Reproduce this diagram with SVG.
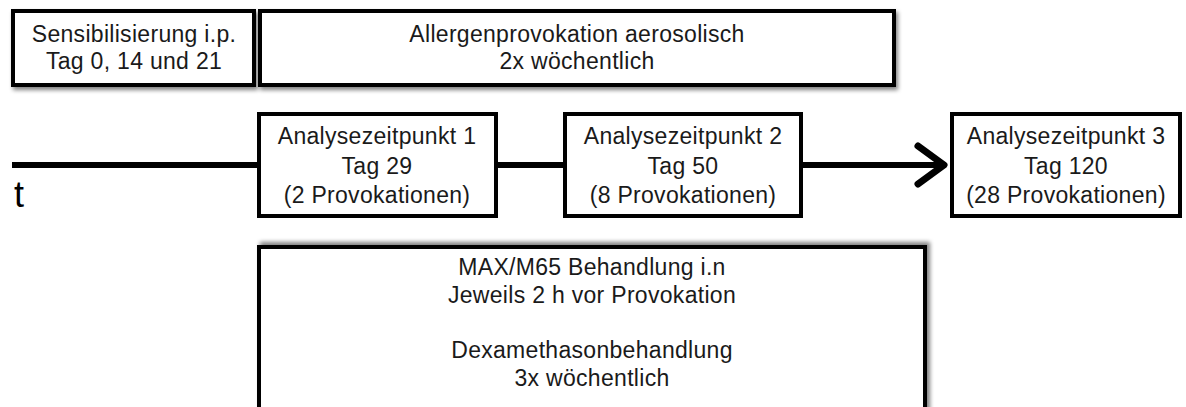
<svg xmlns="http://www.w3.org/2000/svg" width="1186" height="407" viewBox="0 0 1186 407">
  <style>
    .box { fill: #ffffff; stroke: #000000; stroke-width: 4; }
    .lbl { font-family: "Liberation Sans", Arial, sans-serif; font-size: 23px; fill: #1a1a1a; text-anchor: middle; letter-spacing: 0.3px; }
    .axis { fill: none; stroke: #000000; stroke-width: 6; }
  </style>
  <defs>
    <filter id="shDown" x="-10%" y="-20%" width="120%" height="150%">
      <feGaussianBlur in="SourceAlpha" stdDeviation="2"/>
      <feOffset dx="2" dy="3" result="b"/>
      <feComponentTransfer><feFuncA type="linear" slope="0.5"/></feComponentTransfer>
      <feMerge><feMergeNode/><feMergeNode in="SourceGraphic"/></feMerge>
    </filter>
    <filter id="shUp" x="-10%" y="-20%" width="120%" height="150%">
      <feGaussianBlur in="SourceAlpha" stdDeviation="2"/>
      <feOffset dx="3" dy="-3" result="b"/>
      <feComponentTransfer><feFuncA type="linear" slope="0.5"/></feComponentTransfer>
      <feMerge><feMergeNode/><feMergeNode in="SourceGraphic"/></feMerge>
    </filter>
    <marker id="chev" markerUnits="userSpaceOnUse" markerWidth="40" markerHeight="50" refX="30" refY="20" orient="auto" overflow="visible">
      <path d="M4,1 L30,20 L4,39" fill="none" stroke="#000" stroke-width="7" stroke-linecap="round" stroke-linejoin="round"/>
    </marker>
  </defs>

  <g id="connectors">
    <path class="axis" d="M12,165 H944" marker-end="url(#chev)"/>
  </g>

  <g id="axis-label">
    <text x="14" y="207" font-family="Liberation Sans, Arial, sans-serif" font-size="36" fill="#000">t</text>
  </g>

  <g id="sensibilisierung">
    <rect class="box" x="13" y="11" width="241" height="74" filter="url(#shDown)"/>
    <text class="lbl" x="134" y="42">Sensibilisierung i.p.</text>
    <text class="lbl" x="134" y="69">Tag 0, 14 und 21</text>
  </g>

  <g id="allergenprovokation">
    <rect class="box" x="260" y="11" width="634" height="74" filter="url(#shDown)"/>
    <text class="lbl" x="577" y="42">Allergenprovokation aerosolisch</text>
    <text class="lbl" x="577" y="69">2x wöchentlich</text>
  </g>

  <g id="analyse1">
    <rect class="box" x="259" y="114" width="237" height="102"/>
    <text class="lbl" x="377" y="144">Analysezeitpunkt 1</text>
    <text class="lbl" x="377" y="174">Tag 29</text>
    <text class="lbl" x="377" y="203">(2 Provokationen)</text>
  </g>

  <g id="analyse2">
    <rect class="box" x="565" y="114" width="236" height="102"/>
    <text class="lbl" x="683" y="144">Analysezeitpunkt 2</text>
    <text class="lbl" x="683" y="174">Tag 50</text>
    <text class="lbl" x="683" y="203">(8 Provokationen)</text>
  </g>

  <g id="analyse3">
    <rect class="box" x="952" y="114" width="228" height="102"/>
    <text class="lbl" x="1066" y="144">Analysezeitpunkt 3</text>
    <text class="lbl" x="1066" y="174">Tag 120</text>
    <text class="lbl" x="1066" y="203">(28 Provokationen)</text>
  </g>

  <g id="behandlung">
    <rect class="box" x="259" y="247" width="666" height="180" filter="url(#shUp)"/>
    <text class="lbl" x="592" y="275">MAX/M65 Behandlung i.n</text>
    <text class="lbl" x="592" y="303">Jeweils 2 h vor Provokation</text>
    <text class="lbl" x="592" y="358">Dexamethasonbehandlung</text>
    <text class="lbl" x="592" y="386">3x wöchentlich</text>
  </g>
</svg>
